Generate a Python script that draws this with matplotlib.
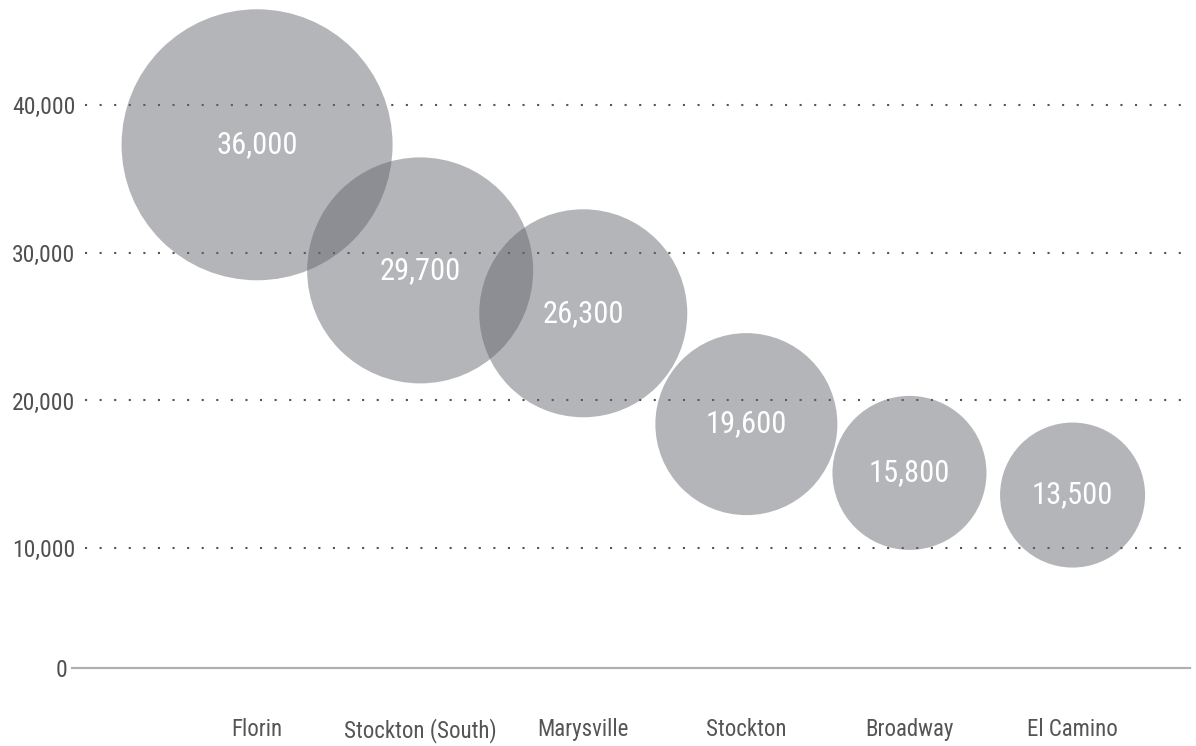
import numpy as np
import matplotlib
matplotlib.use("Agg")
import matplotlib.pyplot as plt

plt.rcParams['font.family'] = ['Roboto Condensed', 'Roboto', 'DejaVu Sans']

# data
sites = ["Florin", "Stockton (South)", "Marysville", "Stockton", "Broadway", "El Camino"]
labels = ["36,000", "29,700", "26,300", "19,600", "15,800", "13,500"]
y_pos = [37300, 28800, 25900, 18400, 15100, 13600]   # bubble centres on the axis
bubble_size = [271, 226, 208, 182, 154, 145]           # bubble diameter
yticks = [0, 10000, 20000, 30000, 40000]
ytick_labels = ["0", "10,000", "20,000", "30,000", "40,000"]


# the 0-10,000 band is drawn shorter than the others in the original
def fwd(y):
    y = np.asarray(y, dtype=float)
    return np.where(y >= 10000, y, 10000 - (10000 - y) * 0.81)


def inv(v):
    v = np.asarray(v, dtype=float)
    return np.where(v >= 10000, v, 10000 - (10000 - v) / 0.81)


fig = plt.figure(figsize=(11.96, 7.46), dpi=100)
ax = fig.add_axes([85 / 1196, 78 / 746, 1105 / 1196, 668 / 746])
ax.set_yscale("function", functions=(fwd, inv))

x = np.arange(len(sites))
sizes = (np.array(bubble_size) * 0.72) ** 2
ax.scatter(x, y_pos, s=sizes, color="#63656c", alpha=0.48, linewidths=0, zorder=3)

for xi, yi, lab in zip(x, y_pos, labels):
    ax.text(xi, yi, lab, ha="center", va="center", color="white", fontsize=22, zorder=4)

ax.set_xlim(-1.055, 5.72)
ax.set_ylim(0, inv(47095))

ax.set_yticks(yticks)
ax.set_yticklabels(ytick_labels)
ax.set_xticks(x)
ax.set_xticklabels(sites)

for yv in yticks[1:]:
    ax.axhline(yv, color="#555555", lw=1.5, ls=(0, (1, 6)), zorder=1)
ax.axhline(0, xmin=-0.012, xmax=1.0, color="#b0b0b0", lw=1.6, clip_on=False, zorder=2)

for s in ax.spines.values():
    s.set_visible(False)
ax.tick_params(axis="y", length=0, pad=7, labelsize=17, labelcolor="#505050")
ax.tick_params(axis="x", length=0, pad=36, labelsize=16.5, labelcolor="#555555")
ax.yaxis.get_major_ticks()[0].set_pad(13)

fig.savefig("out.png", dpi=100)
